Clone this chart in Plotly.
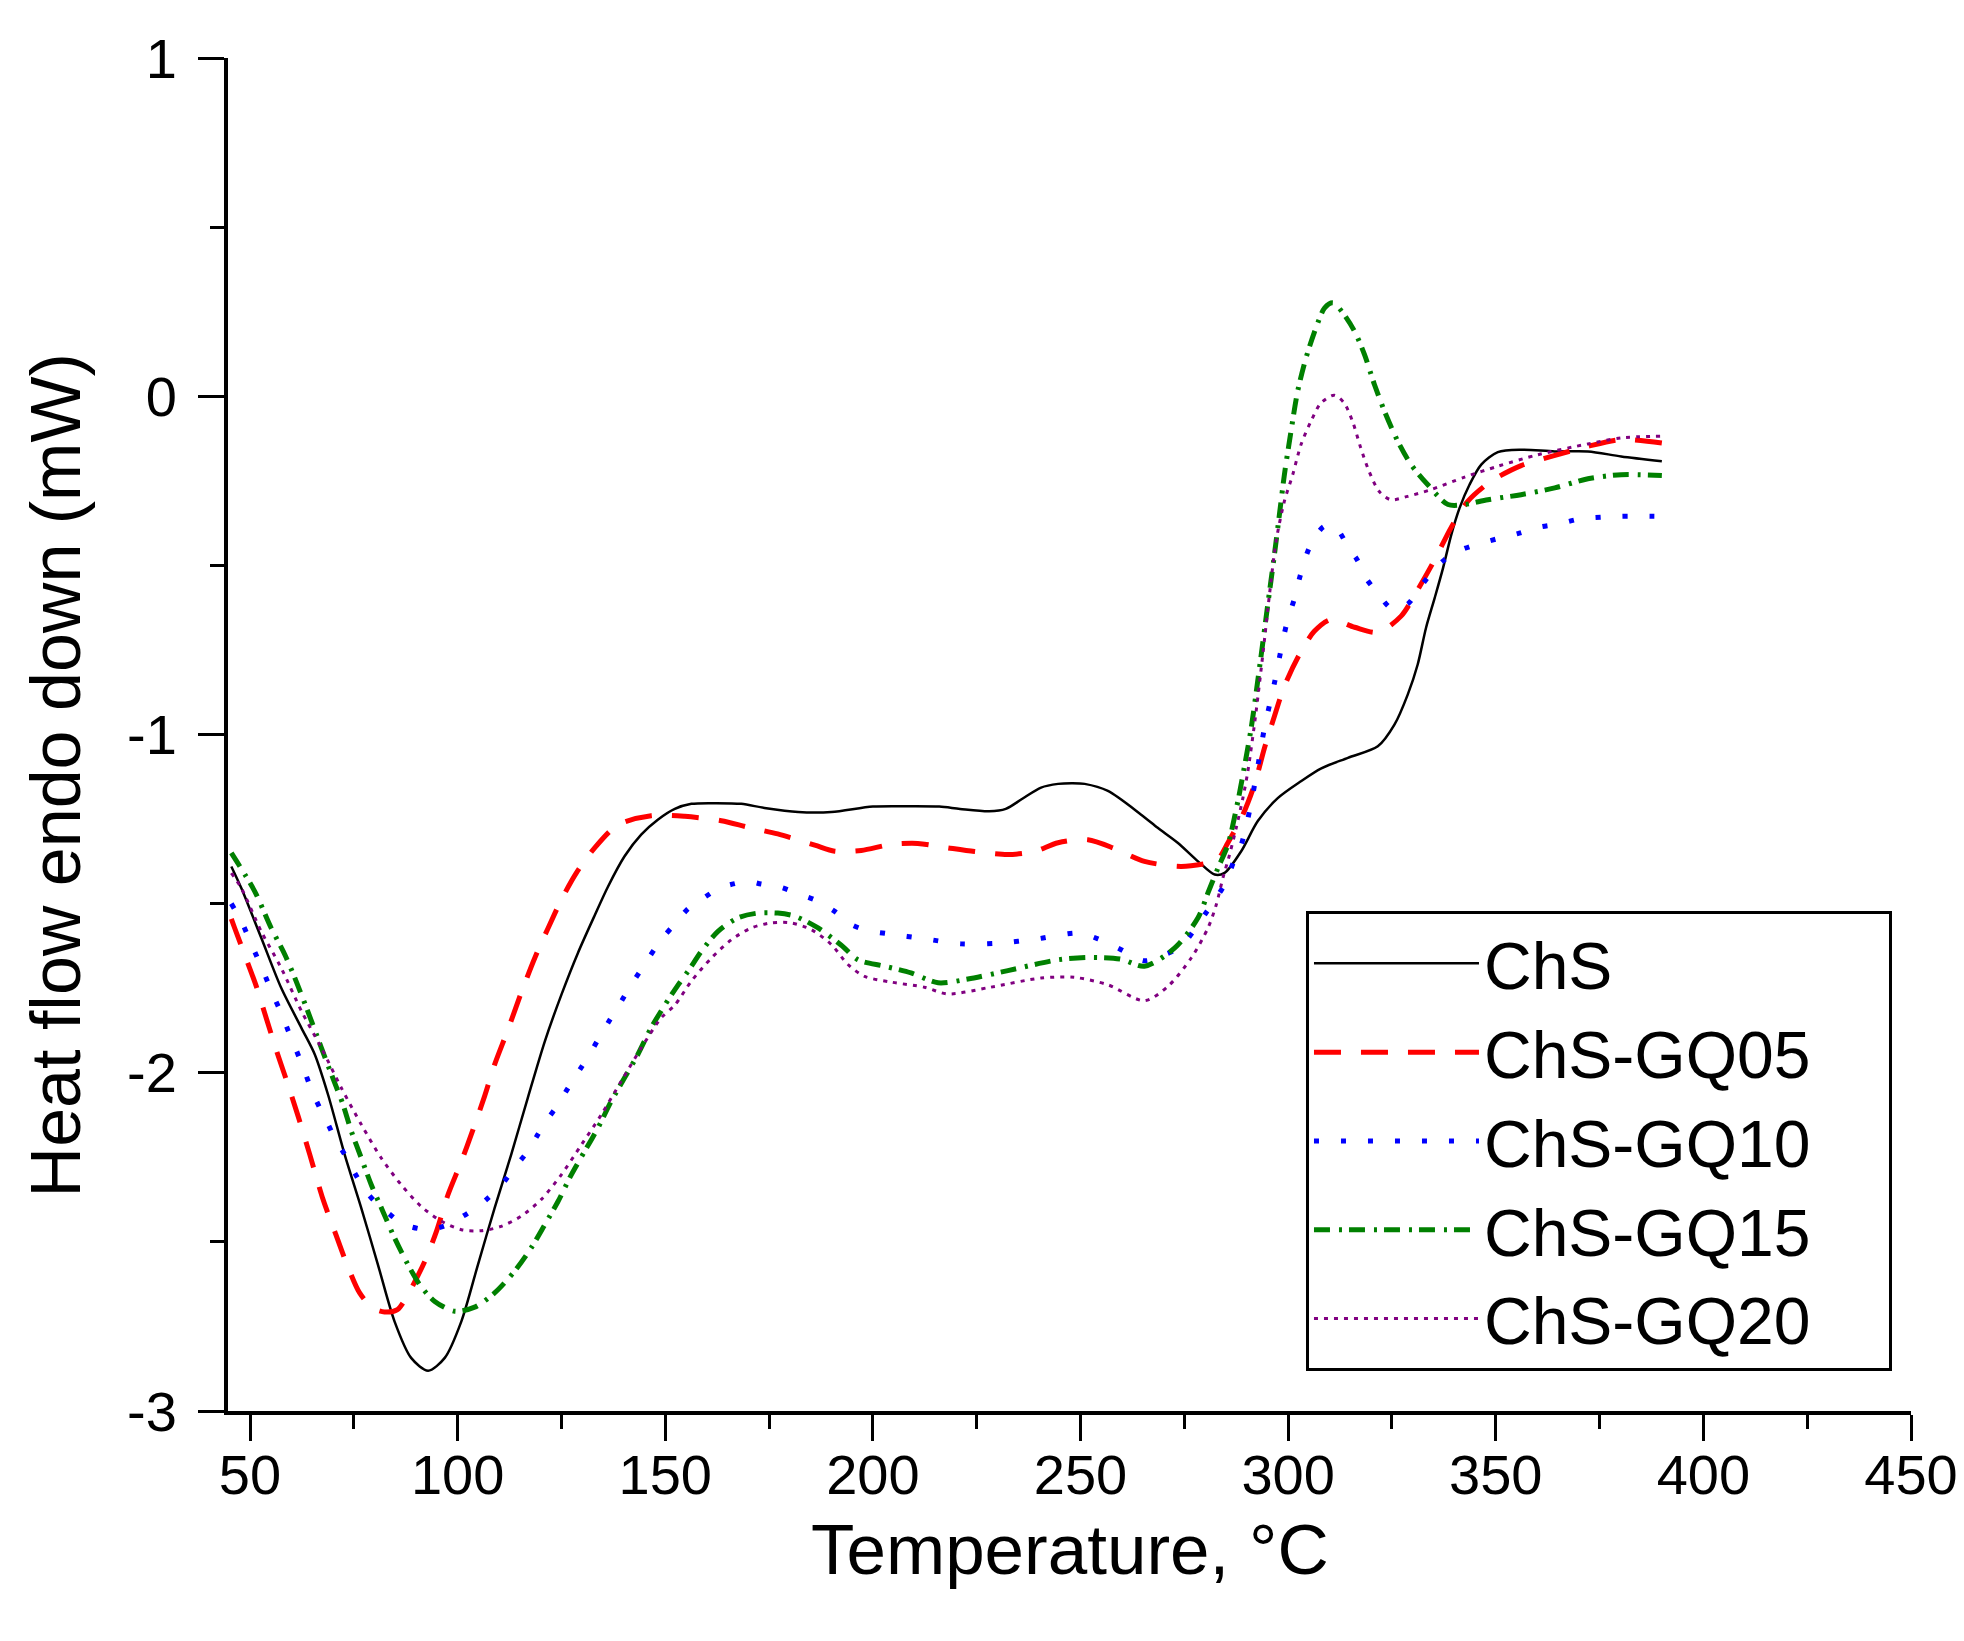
import plotly.graph_objects as go

# --- DSC curves (temperature in °C, heat flow in mW) ---
chs_t = [45.5, 47.9, 52.7, 57.5, 62.4, 65.6, 68.8, 72.8, 76.8, 80.8, 84.8, 88.8, 92.9, 96.9,
         100.9, 104.9, 108.9, 112.9, 116.9, 121, 125, 129, 133, 136.2, 140.2, 144.2, 148.2,
         152.3, 156.3, 162, 168.3, 173.9, 182, 190, 200, 208, 216, 221, 228, 232, 236, 240.5,
         244.6, 248, 251, 256.6, 264.6, 268.6, 273.4, 278.3, 282.3, 284.7, 288.7, 292.7, 297.5,
         303.1, 308, 314.4, 321.6, 325.6, 328.8, 331.2, 333.2, 335.3, 337.3, 339.3, 341.3,
         343.7, 346.5, 350.5, 356.1, 364.2, 372.2, 380.2, 390]
chs_hf = [-1.39, -1.454, -1.601, -1.749, -1.868, -1.946, -2.065, -2.242, -2.40, -2.567, -2.735,
          -2.843, -2.881, -2.843, -2.735, -2.567, -2.40, -2.242, -2.074, -1.907, -1.769, -1.645,
          -1.535, -1.45, -1.36, -1.296, -1.252, -1.22, -1.205, -1.203, -1.205, -1.217, -1.229,
          -1.229, -1.213, -1.212, -1.213, -1.22, -1.227, -1.22, -1.19, -1.157, -1.146, -1.144,
          -1.146, -1.167, -1.237, -1.276, -1.32, -1.375, -1.414, -1.409, -1.345, -1.256, -1.188,
          -1.138, -1.10, -1.069, -1.035, -0.971, -0.882, -0.793, -0.685, -0.596, -0.508, -0.409,
          -0.33, -0.261, -0.202, -0.165, -0.158, -0.163, -0.163, -0.178, -0.192]

gq05_t = [45.5, 46.3, 48.7, 51.5, 53.9, 56.3, 59, 61.6, 64.4, 67.6, 70.4, 73.2, 76.4, 79.5,
          82.4, 85.5, 88, 92.1, 94.9, 97.7, 100.9, 103.7, 106.5, 108.9, 112.1, 115.3, 118.6,
          121.8, 125, 128.6, 133, 138.6, 146.6, 154.7, 163.5, 169.9, 177.1, 186, 190.8, 197.2,
          204.4, 210.8, 218, 224.5, 232.5, 238.9, 244.6, 251.8, 258.2, 265.4, 274.2, 280.7, 283,
          285.5, 289.1, 291.9, 294.3, 296.7, 299.1, 302.7, 306.3, 310.3, 316, 321.6, 327.2,
          331.2, 335.3, 339.3, 343.3, 348.9, 356.1, 363.4, 372.2, 380.2, 390]
gq05_hf = [-1.545, -1.572, -1.651, -1.744, -1.838, -1.932, -2.03, -2.129, -2.242, -2.375, -2.469,
           -2.562, -2.651, -2.695, -2.707, -2.70, -2.656, -2.557, -2.469, -2.36, -2.262, -2.168,
           -2.069, -1.976, -1.873, -1.764, -1.66, -1.572, -1.488, -1.409, -1.335, -1.267, -1.24,
           -1.242, -1.255, -1.274, -1.294, -1.327, -1.345, -1.343, -1.325, -1.322, -1.335,
           -1.346, -1.355, -1.346, -1.32, -1.311, -1.337, -1.375, -1.39, -1.38, -1.37, -1.32,
           -1.237, -1.148, -1.04, -0.946, -0.857, -0.764, -0.695, -0.66, -0.683, -0.698, -0.65,
           -0.572, -0.483, -0.387, -0.31, -0.251, -0.205, -0.178, -0.148, -0.128, -0.138]

gq10_t = [45.5, 47.9, 49.9, 51.8, 53.7, 55.5, 57.4, 59.2, 61.1, 63, 64.8, 66.8, 68.4, 70.4, 72.8,
          75.2, 77.6, 80, 83.2, 87.2, 92.9, 97.7, 101.3, 104.9, 106.9, 110.5, 113.7, 116.9, 119.3,
          121.3, 124.2, 126.6, 129.4, 131.8, 133.8, 136.2, 139.4, 141.8, 144.2, 149, 152.3,
          155.5, 159.5, 163.1, 166.7, 169.9, 173.1, 177.9, 182, 186.4, 190.8, 194.8, 198.8,
          203.6, 212.5, 221.2, 230.1, 239.7, 249.4, 254.2, 259, 265.4, 270.2, 274.2, 279.9,
          284.9, 286.9, 288.7, 289.9, 291.1, 292.3, 294.3, 296.7, 298.7, 299.9, 301.4, 302.7,
          304.1, 306, 308.5, 310.5, 312.5, 314.5, 316.6, 318.6, 321.4, 325.1, 328.8, 332,
          334.9, 337.7, 341.7, 345.7, 350.5, 355.3, 360.5, 364.9, 370.6, 380.2, 390]
gq10_hf = [-1.50, -1.552, -1.607, -1.661, -1.715, -1.769, -1.82, -1.876, -1.932, -1.991, -2.05,
           -2.104, -2.142, -2.193, -2.242, -2.296, -2.345, -2.38, -2.414, -2.449, -2.464, -2.449,
           -2.424, -2.395, -2.375, -2.333, -2.281, -2.232, -2.183, -2.143, -2.094, -2.045,
           -1.991, -1.946, -1.902, -1.853, -1.789, -1.74, -1.695, -1.607, -1.56, -1.515, -1.481,
           -1.454, -1.441, -1.434, -1.442, -1.452, -1.471, -1.491, -1.523, -1.562, -1.58, -1.589,
           -1.604, -1.619, -1.617, -1.604, -1.587, -1.604, -1.631, -1.669, -1.651, -1.626,
           -1.533, -1.439, -1.375, -1.326, -1.271, -1.202, -1.123, -0.981, -0.848, -0.724,
           -0.66, -0.603, -0.54, -0.48, -0.424, -0.386, -0.38, -0.404, -0.448, -0.483, -0.535,
           -0.58, -0.629, -0.614, -0.562, -0.516, -0.483, -0.454, -0.437, -0.421, -0.406,
           -0.387, -0.378, -0.362, -0.355, -0.355]

gq15_t = [45.5, 51.1, 55.1, 58.4, 61.1, 63.6, 66, 68.4, 70.4, 72.4, 74.4, 76.8, 79.2, 82, 84.8,
          87.6, 90.9, 94.5, 99.3, 104.1, 108.9, 113.7, 117.7, 121, 124.2, 127.4, 130.6, 133.8,
          137, 140.2, 143.4, 146.6, 149.9, 153.1, 155.5, 158.7, 162.7, 167.5, 172.3, 177.1,
          181.2, 186.8, 192.4, 196.4, 202.8, 209.2, 215.7, 222.9, 232.5, 244.6, 252.5, 259.7,
          265.4, 272.7, 278.3, 280.7, 283.1, 285.5, 287.9, 289.1, 291.1, 293.1, 295.1, 296.7,
          297.9, 299.1, 300.7, 302.3, 304.3, 306.7, 308.8, 310.8, 313.2, 316, 318.4, 320.8,
          323.2, 326.4, 329.6, 333.6, 338.5, 342.5, 348.1, 356.1, 364.2, 372.2, 380.2, 390]
gq15_hf = [-1.35, -1.463, -1.572, -1.651, -1.729, -1.808, -1.887, -1.966, -2.03, -2.094, -2.173,
           -2.252, -2.331, -2.41, -2.488, -2.557, -2.627, -2.676, -2.705, -2.693, -2.651, -2.587,
           -2.518, -2.449, -2.38, -2.301, -2.232, -2.163, -2.084, -2.015, -1.946, -1.867, -1.80,
           -1.74, -1.70, -1.641, -1.582, -1.542, -1.528, -1.528, -1.537, -1.572, -1.623, -1.666,
           -1.685, -1.705, -1.734, -1.723, -1.698, -1.666, -1.659, -1.664, -1.685, -1.631,
           -1.542, -1.468, -1.395, -1.326, -1.197, -1.12, -0.981, -0.803, -0.616, -0.468, -0.35,
           -0.232, -0.103, 0.015, 0.113, 0.202, 0.261, 0.276, 0.246, 0.192, 0.123, 0.034,
           -0.044, -0.133, -0.202, -0.261, -0.32, -0.32, -0.306, -0.291, -0.271, -0.244,
           -0.232, -0.234]

gq20_t = [45.5, 47.9, 52.7, 57.5, 62.4, 67.2, 72, 76.8, 81.6, 86.4, 91.2, 96.1, 100.9, 105.7,
          110.5, 115.3, 120.1, 125, 129.8, 134.6, 139.4, 144.2, 149, 152.3, 156.3, 161.1, 165.9,
          170.7, 175.5, 180.3, 185.2, 190, 194, 198, 204.4, 212.4, 218, 228.4, 240.5, 248.5,
          256.6, 265.4, 271.1, 276.7, 280.7, 282.7, 284.3, 285.9, 287.5, 289.1, 290.3, 292.3,
          293.9, 295.5, 297.1, 299.1, 301.1, 303.1, 305.5, 307.9, 311.1, 313.5, 315.5, 317.5,
          319.5, 321.9, 324.7, 328.8, 334.4, 342.5, 350.5, 360.1, 372.2, 380.2, 390]
gq20_hf = [-1.41, -1.454, -1.582, -1.69, -1.818, -1.927, -2.045, -2.153, -2.252, -2.331, -2.395,
           -2.439, -2.464, -2.467, -2.454, -2.424, -2.375, -2.301, -2.213, -2.124, -2.025,
           -1.927, -1.838, -1.80, -1.729, -1.661, -1.607, -1.572, -1.557, -1.557, -1.577,
           -1.621, -1.68, -1.715, -1.732, -1.747, -1.767, -1.747, -1.72, -1.718, -1.74, -1.787,
           -1.744, -1.66, -1.572, -1.503, -1.424, -1.355, -1.276, -1.188, -1.109, -0.931,
           -0.764, -0.587, -0.429, -0.31, -0.232, -0.143, -0.074, -0.02, 0.003, -0.02, -0.074,
           -0.153, -0.222, -0.281, -0.306, -0.296, -0.276, -0.239, -0.207, -0.173, -0.141,
           -0.123, -0.118]

names = ["ChS", "ChS-GQ05", "ChS-GQ10", "ChS-GQ15", "ChS-GQ20"]
temps = [chs_t, gq05_t, gq10_t, gq15_t, gq20_t]
flows = [chs_hf, gq05_hf, gq10_hf, gq15_hf, gq20_hf]

x_ticks = [50, 100, 150, 200, 250, 300, 350, 400, 450]
y_ticks = [-3, -2, -1, 0, 1]
y_labels = ["-3", "-2", "-1", "0", "1"]

colors = ["#000000", "#ff0000", "#0000ff", "#008000", "#800080"]
widths = [2.5, 5, 5, 5, 3]
dashes = ["solid", "27px,20px", "5px,22px", "16px,9px,3px,7px", "4px,6px"]

FONT = "Liberation Sans, Arial, sans-serif"
PAD = "\u00a0" * 4

fig = go.Figure()
for t, hf, name, c, w, d in zip(temps, flows, names, colors, widths, dashes):
    fig.add_trace(go.Scatter(x=t, y=hf, name=name + PAD, mode="lines",
                             line=dict(color=c, width=w, dash=d, shape="spline", smoothing=0.8)))

axis_style = dict(showline=True, linecolor="black", linewidth=4, showgrid=False,
                  zeroline=False, ticks="outside", ticklen=26, tickwidth=3,
                  tickcolor="black", tickfont=dict(size=56, color="black", family=FONT))

fig.update_xaxes(range=[44.7, 450], tickvals=x_ticks,
                 minor=dict(dtick=25, tick0=50, ticks="outside", ticklen=14, tickwidth=3,
                            tickcolor="black"),
                 ticklabelstandoff=-14, **axis_style)
fig.update_yaxes(range=[-3, 1], tickvals=y_ticks, ticktext=y_labels,
                 minor=dict(dtick=0.5, tick0=-3, ticks="outside", ticklen=14, tickwidth=3,
                            tickcolor="black"),
                 ticklabelstandoff=10, **axis_style)

fig.add_annotation(text="Temperature, °C", xref="paper", yref="paper", x=0.5, y=-0.1024,
                   xanchor="center", yanchor="middle", showarrow=False,
                   font=dict(size=71, color="black", family=FONT))
fig.add_annotation(text="Heat flow endo down (mW)", xref="paper", yref="paper", x=-0.102,
                   y=0.47, xanchor="center", yanchor="middle", textangle=-90,
                   showarrow=False, font=dict(size=70, color="black", family=FONT))

fig.update_layout(
    width=1964, height=1641,
    margin=dict(l=220, r=61, t=50, b=238),
    paper_bgcolor="white", plot_bgcolor="white",
    font=dict(family=FONT, color="black"),
    showlegend=True,
    legend=dict(x=0.9887, y=0.0296, xanchor="right", yanchor="bottom",
                bordercolor="black", borderwidth=3, bgcolor="white",
                font=dict(size=66, color="black", family=FONT),
                itemwidth=165, tracegroupgap=0),
)

fig.write_html("out.html")
